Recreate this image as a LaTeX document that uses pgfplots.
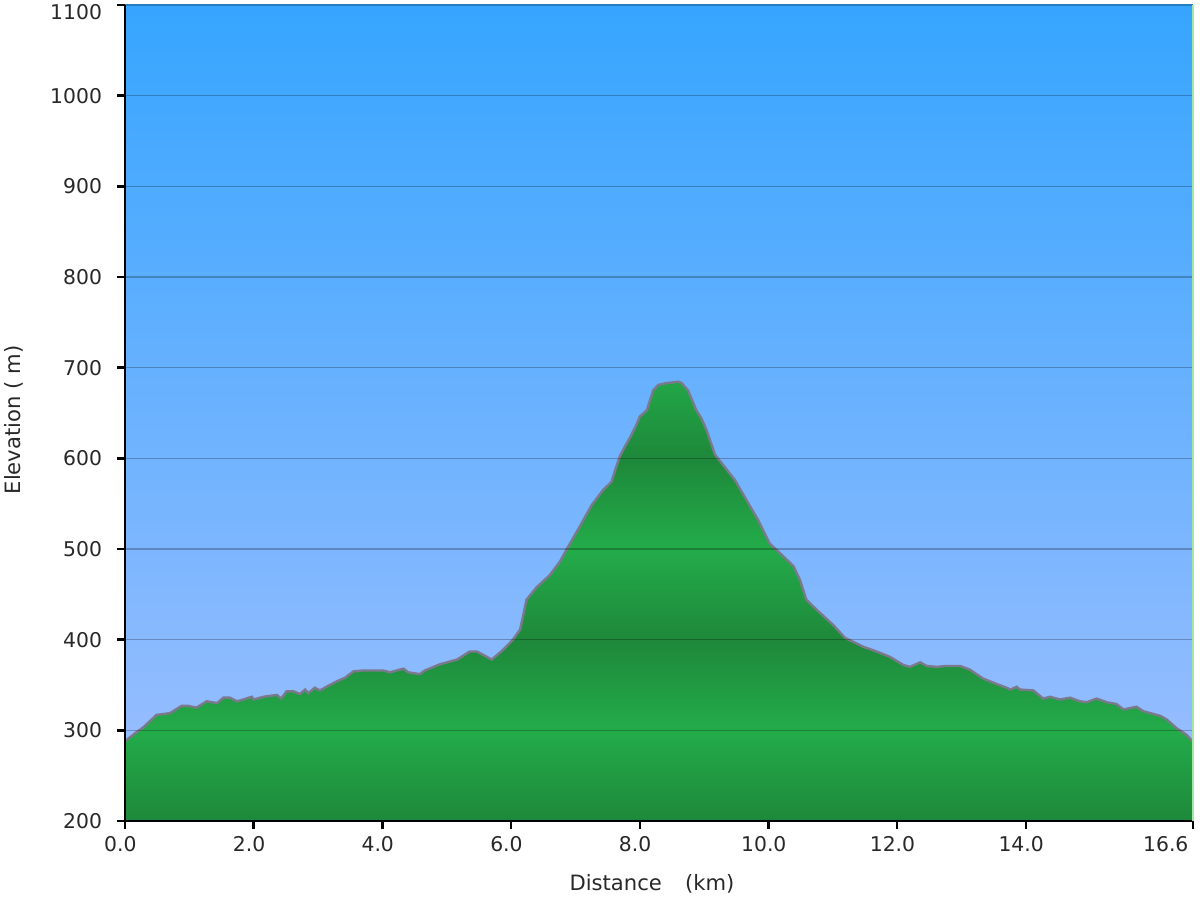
\documentclass[border=0pt]{standalone}
\usepackage{fontspec}
\setmainfont{DejaVu Sans}
\usepackage{pgfplots}
\usepackage{pgfplotstable}
\pgfplotsset{compat=1.18}

\definecolor{skyT}{RGB}{54,165,255}
\definecolor{skyB}{RGB}{160,191,255}
\definecolor{gB}{RGB}{35,172,74}
\definecolor{gD}{RGB}{30,136,58}
\definecolor{outl}{RGB}{122,122,140}
\definecolor{edge}{RGB}{165,232,165}
\definecolor{txt}{RGB}{40,40,40}

% elevation 200..684.5 maps onto 25bp..75bp of the shading
\pgfdeclareverticalshading{terrain}{100bp}{color(0bp)=(gD); color(25bp)=(gD);
  color(35.32bp)=(gB); color(45.64bp)=(gD); color(55.96bp)=(gB);
  color(66.28bp)=(gD); color(76.6bp)=(gB); color(100bp)=(gB)}

\pgfplotstableread{
d e
0.00 200
0.00 288
0.18 298
0.28 303
0.49 317
0.70 319
0.88 327
0.98 327
1.11 325
1.27 332
1.43 330
1.53 336
1.63 336
1.74 332
1.84 334
1.97 337
2.00 334
2.15 337
2.36 339
2.43 335
2.51 343
2.62 343
2.72 340
2.80 345
2.85 341
2.95 347
3.03 344
3.13 348
3.29 354
3.42 358
3.55 365
3.70 366
4.01 366
4.12 364
4.22 366
4.33 368
4.40 364
4.58 362
4.66 366
4.90 373
5.16 378
5.36 387
5.47 387
5.70 378
5.88 389
6.03 400
6.14 411
6.19 427
6.24 444
6.40 458
6.60 471
6.76 486
6.86 499
7.07 525
7.25 548
7.43 565
7.56 574
7.61 585
7.69 602
7.77 613
7.85 623
7.95 637
8.00 646
8.11 653
8.21 675
8.29 681
8.42 683
8.60 684.5
8.65 683
8.75 675
8.88 653
8.96 644
9.04 631
9.17 604
9.27 595
9.48 576
9.61 560
9.84 532
10.02 506
10.23 492
10.39 481
10.49 466
10.59 444
10.75 433
11.01 416
11.19 402
11.48 392
11.68 387
11.89 381
12.10 372
12.20 370
12.36 375
12.46 371
12.62 370
12.77 371
12.98 371
13.13 367
13.34 357
13.55 351
13.70 347
13.76 345
13.86 348
13.91 345
14.12 344
14.27 335
14.38 337
14.53 334
14.69 336
14.84 332
14.95 331
15.10 335
15.26 331
15.41 329
15.52 323
15.72 326
15.83 321
16.09 316
16.19 312
16.35 302
16.50 295
16.60 287
16.60 200
}\elev

\begin{document}
\begin{tikzpicture}
\useasboundingbox (-62.5bp,-39.5bp) rectangle (537.5bp,410.5bp);
\begin{axis}[
    at={(0,0)}, anchor=south west,
    scale only axis,
    width=534bp, height=408bp,
    xmin=0, xmax=16.6,
    ymin=200, ymax=1100,
    axis on top,
    axis x line*=bottom, axis y line*=left,
    axis line style={line width=1.4bp, black},
    xtick={0,2,4,6,8,10,12,14,16.6},
    xticklabels={0.0,2.0,4.0,6.0,8.0,10.0,12.0,14.0,\makebox[0pt][r]{16.6}},
    ytick={200,300,...,1100},
    yticklabels={200,300,400,500,600,700,800,900,1000,\raisebox{-3.5bp}[\height][\depth]{1100}},
    tick align=outside,
    major tick length=4bp,
    tick style={line width=1.2bp, black},
    ymajorgrids,
    major grid style={line width=0.8bp, black, opacity=0.25},
    extra x ticks={16.6},
    extra x tick labels={},
    extra x tick style={grid=major, major tick length=0pt,
        major grid style={draw=edge, line width=0.6bp, opacity=1}},
    axis background/.style={shade, top color=skyT, bottom color=skyB},
    tick label style={font=\fontsize{10.2}{12}\selectfont, text=txt},
    xticklabel style={xshift=-2.3bp},
    yticklabel style={xshift=-4bp},
    /pgf/number format/assume math mode=true,
    /pgf/number format/1000 sep={},
    xlabel={Distance\hspace{1.1em}(km)},
    ylabel={Elevation ( m)},
    label style={font=\fontsize{10.6}{13}\selectfont, text=txt},
    xlabel style={at={(axis description cs:0.4934,-0.0772)}, anchor=center},
    ylabel style={at={(axis description cs:-0.1039,0.4914)}, anchor=center},
]
\addplot[draw=none, shade, shading=terrain] table {\elev};
\addplot[draw=outl, line width=1.2bp, restrict y to domain=201:2000] table {\elev};
\end{axis}
\end{tikzpicture}
\end{document}
